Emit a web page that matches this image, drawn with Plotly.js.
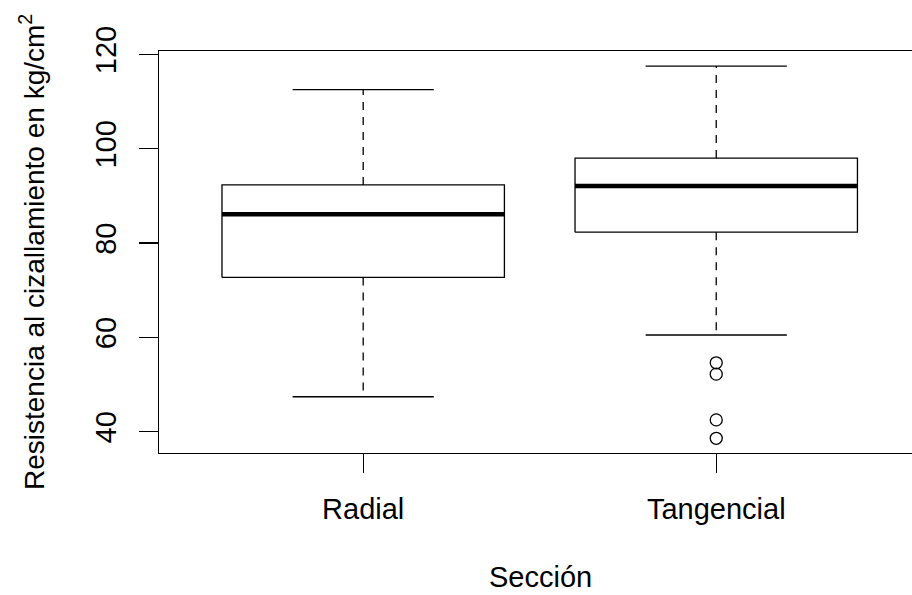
<!DOCTYPE html>
<html>
<head>
<meta charset="utf-8">
<script src="https://cdn.plot.ly/plotly-3.0.1.min.js"></script>
<style>
  html, body { margin: 0; padding: 0; background: #fff; overflow: hidden; }
  #chart { width: 935px; height: 595px; }
</style>
</head>
<body>
<div id="chart"></div>
<script>
// ---- data ----
const categories = ['Radial', 'Tangencial'];
const lowerWhisker = [47.4, 60.5];
const q1 = [72.7, 82.3];
const median = [86.1, 92.1];
const q3 = [92.3, 98.0];
const upperWhisker = [112.5, 117.5];
const outlierCategory = ['Tangencial', 'Tangencial', 'Tangencial', 'Tangencial'];
const outlierValues = [54.6, 52.2, 42.5, 38.6];
const yTickValues = [40, 60, 80, 100, 120];

// ---- build traces ----
const pos = categories.map((c, i) => i + 1);
const halfBox = 0.4, halfStaple = 0.2;
const boxX = [], boxY = [], medX = [], medY = [], whX = [], whY = [], stX = [], stY = [];
pos.forEach((c, i) => {
  boxX.push(c - halfBox, c + halfBox, c + halfBox, c - halfBox, c - halfBox, null);
  boxY.push(q1[i], q1[i], q3[i], q3[i], q1[i], null);
  medX.push(c - halfBox, c + halfBox, null);
  medY.push(median[i], median[i], null);
  whX.push(c, c, null, c, c, null);
  whY.push(q3[i], upperWhisker[i], null, q1[i], lowerWhisker[i], null);
  stX.push(c - halfStaple, c + halfStaple, null, c - halfStaple, c + halfStaple, null);
  stY.push(upperWhisker[i], upperWhisker[i], null, lowerWhisker[i], lowerWhisker[i], null);
});
const outX = outlierCategory.map(c => categories.indexOf(c) + 1);

const black = '#000000';
const traces = [
  {x: whX, y: whY, mode: 'lines', line: {color: black, width: 1.3, dash: '8px,7px'}, hoverinfo: 'skip'},
  {x: stX, y: stY, mode: 'lines', line: {color: black, width: 1.3}, hoverinfo: 'skip'},
  {x: boxX, y: boxY, mode: 'lines', line: {color: black, width: 1.3}, hoverinfo: 'skip'},
  {x: medX, y: medY, mode: 'lines', line: {color: black, width: 4.5}, hoverinfo: 'skip'},
  {x: outX, y: outlierValues, mode: 'markers',
   marker: {symbol: 'circle-open', size: 12, color: black, line: {color: black, width: 1.3}}}
];

const fontFam = 'Liberation Sans, Arial, sans-serif';
const fs = 29;
const layout = {
  width: 935, height: 595,
  margin: {l: 159, r: 14, t: 51, b: 142, pad: 0},
  paper_bgcolor: '#ffffff', plot_bgcolor: '#ffffff',
  showlegend: false,
  font: {family: fontFam, size: fs, color: black},
  xaxis: {
    range: [0.4216, 2.58], tickmode: 'array', tickvals: pos, ticktext: categories,
    showgrid: false, zeroline: false, showline: true, mirror: true,
    linecolor: black, linewidth: 1.3,
    ticks: 'outside', ticklen: 19, tickwidth: 1.3, tickcolor: black,
    ticklabelstandoff: 11,
    tickfont: {family: fontFam, size: fs, color: black}
  },
  yaxis: {
    range: [35.48, 120.7], tickmode: 'array', tickvals: yTickValues,
    showgrid: false, zeroline: false, showline: true, mirror: true,
    linecolor: black, linewidth: 1.3,
    ticks: 'outside', ticklen: 19, tickwidth: 1.3, tickcolor: black,
    tickangle: -90, ticklabelstandoff: 11,
    tickfont: {family: fontFam, size: fs, color: black}
  },
  annotations: [
    {text: 'Sección', xref: 'paper', yref: 'paper', x: 0.5, y: 0,
     xanchor: 'center', yanchor: 'middle', yshift: -124, showarrow: false,
     font: {family: fontFam, size: fs, color: black}},
    {text: 'Resistencia al cizallamiento en kg/cm<sup>2</sup>', xref: 'paper', yref: 'paper',
     x: 0, y: 0.5, xanchor: 'center', yanchor: 'middle', xshift: -127, textangle: -90,
     showarrow: false, font: {family: fontFam, size: 28, color: black}}
  ]
};

Plotly.newPlot('chart', traces, layout, {displayModeBar: false, staticPlot: true});
</script>
</body>
</html>
